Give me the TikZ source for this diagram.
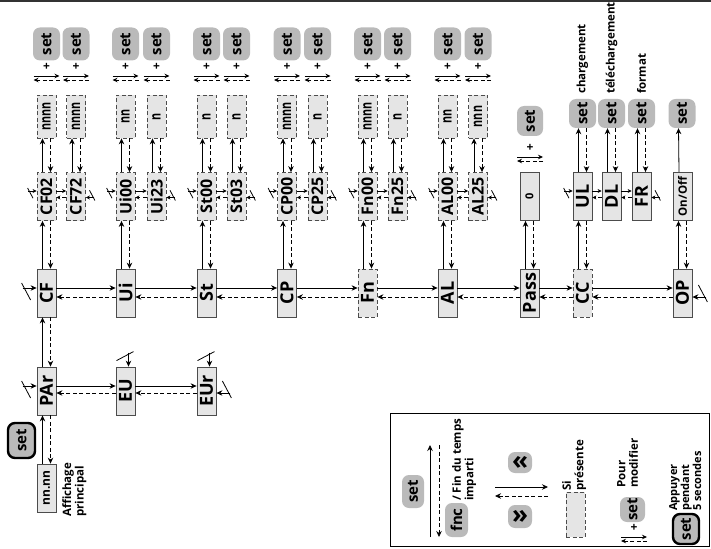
\documentclass[tikz,border=0pt]{standalone}
\usepackage{fontspec}
\setmainfont{Open Sans}
\newfontfamily\narrowfont{Open Sans}[FakeStretch=0.72]
\usepackage{graphicx}
\usetikzlibrary{arrows.meta}

\newcommand{\vtext}[1]{\rotatebox{90}{#1}}
% solid link up, dashed link back down
\newcommand{\vlink}[2]{%
  \draw[nav,->] ([xshift=-4pt]#1.north) -- ([xshift=-4pt]#2.south);
  \draw[back,->] ([xshift=4pt]#2.south) -- ([xshift=4pt]#1.north);}
% solid link right, dashed link back left
\newcommand{\hlink}[4]{%
  \draw[nav,->] ([yshift=#3]#1.east) -- ([yshift=#3]#2.west);
  \draw[back,->] ([yshift=#4]#2.west) -- ([yshift=#4]#1.east);}

\tikzset{
  menubox/.style={draw=black!70,fill=black!10,line width=0.8pt,inner sep=0pt,
    minimum width=19pt,minimum height=48pt,font=\bfseries\fontsize{18}{18}\selectfont},
  dbox/.style={menubox,dash pattern=on 4pt off 2.5pt},
  pbox/.style={dbox,font=\bfseries\fontsize{16}{16}\selectfont},
  vbox/.style={dbox,minimum height=43pt,font=\narrowfont\bfseries\fontsize{15}{15}\selectfont},
  setkey/.style={fill=black!27,rounded corners=7pt,inner sep=0pt,
    minimum width=27pt,minimum height=33pt,font=\bfseries\fontsize{15}{15}\selectfont},
  holdkey/.style={setkey,draw=black,line width=2.4pt},
  vnote/.style={rotate=90,inner sep=0pt,align=left,font=\bfseries\fontsize{11.5}{12.5}\selectfont},
  nav/.style={line width=0.8pt},
  back/.style={nav,dash pattern=on 4pt off 2.5pt},
  tinytips/.style={>={Stealth[length=4pt,width=4pt]}},
  timeout/.pic={
    \draw[nav,->] (-14pt,0) -- (0,0);
    \draw[nav] (-15pt,5pt) -- (-6pt,-12pt);},
  modify/.pic={
    \node[font=\bfseries\fontsize{12}{12}\selectfont,inner sep=0pt] (-plus) at (0,5pt) {+};
    \draw[nav,->] (-13pt,-4pt) -- (13pt,-4pt);
    \draw[back,->] (13pt,-8pt) -- (-13pt,-8pt);}
}

\begin{document}
\begin{tikzpicture}[x=1pt,y=-1pt,>={Stealth[length=6pt,width=5.5pt]}]
\useasboundingbox (0,0) rectangle (711,548);
\fill[black!80] (0,0) rectangle (711,2.5);

% Main row
\node[menubox] (CF) at (46.5,293) {\vtext{CF}};
\node[menubox] (Ui) at (125.5,293) {\vtext{Ui}};
\node[menubox] (St) at (206.5,293) {\vtext{St}};
\node[menubox] (CP) at (287,293) {\vtext{CP}};
\node[dbox] (Fn) at (367.5,293) {\vtext{Fn}};
\node[menubox] (AL) at (447.5,293) {\vtext{AL}};
\node[menubox] (Pass) at (529.5,293) {\vtext{Pass}};
\node[dbox] (CC) at (582.5,293) {\vtext{CC}};
\node[menubox] (OP) at (682.5,293) {\vtext{OP}};
\foreach \a/\b in {CF/Ui,Ui/St,St/CP,CP/Fn,Fn/AL,AL/Pass,Pass/CC,CC/OP} {\hlink{\a}{\b}{5pt}{-4pt}}
\path ([yshift=5pt]CF.west) pic {timeout};
\path ([yshift=-4pt]OP.east) pic[rotate=180] {timeout};

% PAr row and main display
\node[menubox] (PAr) at (46.5,391) {\vtext{PAr}};
\node[menubox] (EU) at (125.5,391) {\vtext{EU}};
\node[menubox] (EUr) at (206.5,391) {\vtext{EUr}};
\hlink{PAr}{EU}{5pt}{-2pt}
\hlink{EU}{EUr}{5pt}{-2pt}
\vlink{PAr}{CF}
\path ([yshift=5pt]PAr.west) pic {timeout};
\path ([xshift=3pt]EU.north) pic[rotate=-90] {timeout};
\path ([xshift=3pt]EUr.north) pic[rotate=-90] {timeout};
\path ([yshift=-2pt]EUr.east) pic[rotate=180] {timeout};
\node[menubox,font=\bfseries\fontsize{12}{12}\selectfont] (disp) at (46.5,488) {\vtext{nn.nn}};
\vlink{disp}{PAr}
\node[holdkey,minimum width=27pt,minimum height=35pt] (hold) at (21.5,440.5) {\vtext{set}};
\node[vnote,anchor=north west] (disptext) at (62,517) {Affichage\\principal};

% Parameters, values and set keys
\foreach \n/\x/\p/\v in {cfa/46.5/CF02/nnnn, cfb/76/CF72/nnnn, uia/125.5/Ui00/nn, uib/156.5/Ui23/n,
    sta/206.5/St00/n, stb/236.5/St03/n, cpa/287/CP00/nnnn, cpb/317.5/CP25/n,
    fna/367.5/Fn00/nnnn, fnb/397.5/Fn25/n, ala/447.5/AL00/nn, alb/478/AL25/nnn} {
  \node[pbox] (\n) at (\x,196.5) {\vtext{\p}};
  \node[vbox] (\n-v) at (\x,116.5) {\vtext{\v}};
  \node[setkey] (\n-k) at (\x,44) {\vtext{set}};
  \pic[>={Stealth[length=5pt,width=4.5pt]}] (\n-m) at (\x,72) {modify};
  \vlink{\n}{\n-v}
}

% Pass and CC columns
\node[menubox,font=\bfseries\fontsize{11}{11}\selectfont] (zero) at (529.5,196.5) {\vtext{0}};
\node[setkey,minimum width=26pt,minimum height=30pt] (passk) at (530,121) {\vtext{set}};
\pic[>={Stealth[length=5pt,width=4.5pt]}] (passm) at (530,153) {modify};
\node[menubox] (UL) at (582.5,196.5) {\vtext{UL}};
\node[menubox] (DL) at (611.5,196.5) {\vtext{DL}};
\node[menubox] (FR) at (641.5,196.5) {\vtext{FR}};
\node[menubox,font=\bfseries\fontsize{11.5}{11.5}\selectfont] (onoff) at (682.5,196.5) {\vtext{On/Off}};
\foreach \n/\x/\t in {UL/582.5/chargement, DL/611.5/téléchargement, FR/641.5/format} {
  \node[setkey,minimum height=29pt] (\n-k) at (\x,113.5) {\vtext{set}};
  \node[vnote,anchor=west] (\n-t) at (\x,94) {\t};
  \vlink{\n}{\n-k}
}
\node[setkey,minimum height=29pt] (OP-k) at (682,113.5) {\vtext{set}};
\draw[nav,->] ([xshift=-3.5pt]onoff.north) -- ([xshift=-3.5pt]OP-k.south);
\foreach \a/\b in {CF/cfa,Ui/uia,St/sta,CP/cpa,Fn/fna,AL/ala,Pass/zero,CC/UL,OP/onoff} {\vlink{\a}{\b}}

% Links inside the parameter groups
\begin{scope}[tinytips]
  \foreach \a/\b in {cfa/cfb,uia/uib,sta/stb,cpa/cpb,fna/fnb,ala/alb,UL/DL,DL/FR} {\hlink{\a}{\b}{5.5pt}{-1pt}}
  \foreach \a in {cfa,uia,sta,cpa,fna,ala,UL} {\path ([yshift=5.5pt]\a.west) pic[scale=0.6] {timeout};}
  \foreach \b in {cfb,uib,stb,cpb,fnb,alb,FR} {\path ([yshift=-1pt]\b.east) pic[rotate=180,scale=0.6] {timeout};}
\end{scope}

% Legend
\draw[line width=0.8pt] (390,413) rectangle (709,546);
\node[setkey,minimum width=22pt] (lgset) at (413,491.5) {\vtext{set}};
\coordinate (lgtop) at (434.5,445);
\coordinate (lgbot) at (434.5,537);
\draw[nav,->] ([xshift=-4.5pt]lgbot) -- ([xshift=-4.5pt]lgtop);
\draw[back,->] ([xshift=4.5pt]lgtop) -- ([xshift=4.5pt]lgbot);
\node[setkey,minimum width=23pt,minimum height=34pt] (fnc) at (456.5,520) {\vtext{fnc}};
\node[vnote,anchor=north west] (fnctext) at (452,501) {/ Fin du temps\\imparti};
\node[setkey,minimum width=24pt,minimum height=21pt,font=\bfseries\fontsize{26}{26}\selectfont] (lgup) at (520,462.5) {«};
\node[setkey,minimum width=24pt,minimum height=23pt,font=\bfseries\fontsize{26}{26}\selectfont] (lgdown) at (520,516.5) {»};
\coordinate (lgl) at (495,491.5);
\coordinate (lgr) at (548,491.5);
\draw[nav,->] ([yshift=4.5pt]lgl) -- ([yshift=4.5pt]lgr);
\draw[back,->] ([yshift=-4.5pt]lgr) -- ([yshift=-4.5pt]lgl);
\node[dbox,minimum height=45pt] (lgopt) at (575.5,514.5) {};
\node[vnote,anchor=north west] (lgopttext) at (562,491) {Si\\présente};
\node[setkey,minimum width=25pt,minimum height=25pt] (lgmod) at (632.5,509.5) {\vtext{set}};
\pic[>={Stealth[length=5pt,width=4.5pt]}] (lgm) at (634,533) {modify};
\node[vnote,anchor=north west] (lgmodtext) at (617,488) {Pour\\modifier};
\node[holdkey,minimum width=26pt,minimum height=30pt] (lghold) at (686,529) {\vtext{set}};
\node[vnote,anchor=north west,font=\bfseries\fontsize{11}{10}\selectfont] (lgholdtext) at (669,511) {Appuyer\\pendant\\5 secondes};
\end{tikzpicture}
\end{document}
